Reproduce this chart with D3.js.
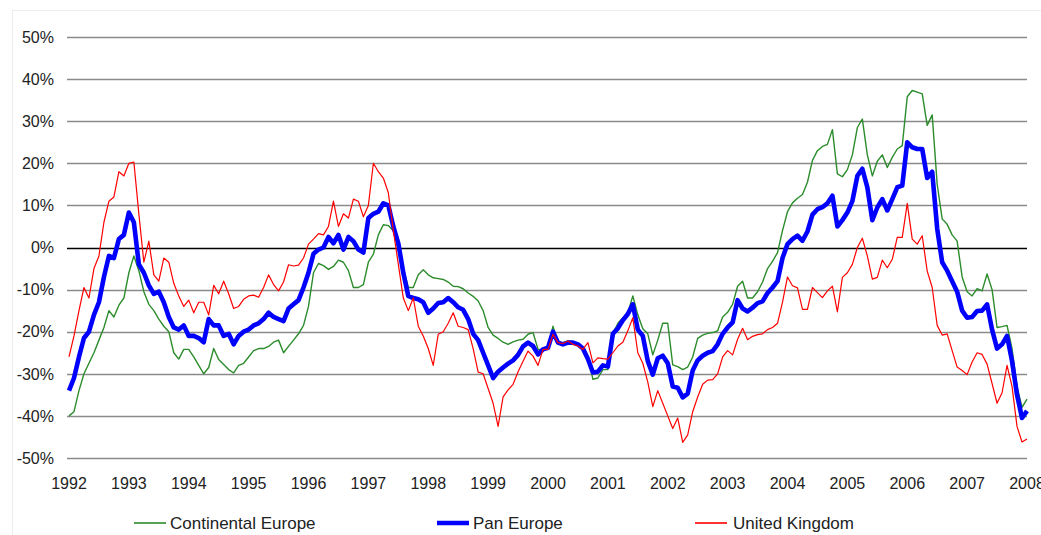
<!DOCTYPE html>
<html>
<head>
<meta charset="utf-8">
<script src="https://cdn.jsdelivr.net/npm/d3@7"></script>
<style>
    body { margin: 0; background: #fff; }
    text { font-family: "Liberation Sans", Arial, sans-serif; fill: #222; }
</style>
</head>
<body>
<div id="chart"></div>
<script>
// monthly values, Jan 1992 .. Jan 2008
const startYear = 1992;
const yearTicks = [1992, 1993, 1994, 1995, 1996, 1997, 1998, 1999, 2000, 2001, 2002, 2003, 2004, 2005, 2006, 2007, 2008];
const pctTicks = [50, 40, 30, 20, 10, 0, -10, -20, -30, -40, -50];

const continental = [
    -40, -39, -34, -30, -27.5, -25, -22, -19, -15, -16.5, -13.7, -12, -6, -2, -5.5, -10.5, -13.5, -15, -17, -18.7, -20, -25, -26.5, -24.2, -24.2, -26, -28, -30, -28.5, -24, -26.6, -27.8, -29, -29.8,
    -28, -27.5, -26, -24.5, -24, -24, -23.5, -22.5, -22, -25, -23.5, -22, -20.5, -18.5, -14, -6, -3.8, -4.3, -5.2, -4.5, -3, -3.5, -5.5, -9.5, -9.5, -8.8, -3.5, -1.6, 3, 5.4, 5.2, 4, -0.5, -5, -9.5,
    -9.5, -6.5, -5.3, -6.5, -7.2, -7.4, -7.6, -8.2, -9.2, -9.3, -9.8, -10.8, -11.6, -12.7, -15, -19, -20.8, -21.6, -22.5, -23, -22.4, -22, -21.8, -20.6, -20.2, -24.2, -24.2, -23.8, -18.7, -22.6, -22.6, -22.2, -22.4, -23, -23.8, -25.8, -31.3, -31,
    -29, -29, -20.5, -18, -16.7, -15.5, -11.5, -16, -19.3, -20.5, -25.5, -22, -18, -18, -27.9, -28.3, -29, -28.4, -26, -21.6, -20.8, -20.4, -20.2, -19.8, -16.5, -15.4, -13.5, -9.2, -8, -12, -12, -10.5, -8.2, -5, -3.3, -1.2,
    4, 8.5, 10.6, 11.7, 12.6, 15.5, 20.7, 23, 24, 24.5, 28, 17.5, 16.8, 18.5, 22, 28.5, 30.5, 22, 17, 20.5, 22, 19, 21.4, 23.4, 24.2, 35.8, 37.3, 36.9, 36.5, 29,
    31.5, 15, 6.8, 5.5, 3, 1.5, -7, -10.5, -11.5, -9.8, -10.3, -6.3, -10, -19, -18.8, -18.5, -24, -33, -38, -36
];

const panEurope = [
    -34, -31, -26, -21.5, -20, -16, -13, -7, -2, -2.5, 2, 3, 8.3, 6, -4, -6, -9, -11, -10.5, -13, -16.5, -19, -19.5, -18.5, -21, -21, -21.5, -22.5, -17, -18.5, -18.5, -21, -20.5, -23,
    -21, -20, -19.5, -18.5, -18, -17, -15.5, -16.5, -17, -17.5, -14.5, -13.5, -12.5, -9.5, -6, -1.5, -0.5, 0, 2.5, 1, 3, -0.5, 2.5, 1.5, -0.5, -1.2, 7, 8, 8.5, 10.5, 10, 5, 1, -6, -11.5,
    -12, -12.3, -13, -15.5, -14.5, -13.2, -13, -12, -13, -14.2, -14.8, -17, -20.5, -22, -25, -28, -31, -29.5, -28.5, -27.6, -26.8, -25.5, -23.5, -22.6, -23.4, -25.4, -24.2, -23.8, -20, -22.6, -23, -22.6, -22.6, -23, -24, -26.5, -29.7, -29.5,
    -28, -28.3, -20.5, -19.2, -17.3, -15.8, -13.5, -19.5, -21, -27, -30.2, -26.3, -25.7, -27.5, -33, -33.3, -35.6, -34.7, -29.2, -26.8, -25.7, -25, -24.6, -23, -20.5, -19, -17.8, -12.5, -14.5, -15.2, -14.3, -13.2, -12.8, -10.8, -9.5, -8,
    -2.5, 0.8, 2, 2.8, 1.6, 3.8, 7.8, 9.1, 9.6, 10.5, 12.3, 5, 6.5, 8.3, 11, 17, 18.7, 14.3, 6.5, 9.5, 11.5, 8.8, 11.5, 14.3, 14.7, 25, 23.8, 23.4, 23.4, 16.5,
    18, 4.5, -3.5, -5.5, -8, -10.5, -15, -16.7, -16.5, -15.1, -15, -13.5, -19.5, -24, -23, -21, -27, -35, -40.5, -38.8
];

const unitedKingdom = [
    -26, -21, -15, -9.5, -12, -5, -2, 6, 11, 12, 18, 17, 20, 20.3, 8, -3.5, 1.5, -6.5, -8, -2.5, -3.5, -8.5, -11.5, -14, -12.5, -15.5, -13, -13, -16, -9, -11, -8, -11, -14.5,
    -14, -12.3, -11.5, -11.3, -11.8, -9.5, -6.5, -8.8, -10.3, -8.2, -4.1, -4.4, -4.2, -2.5, 0.8, 2, 3.3, 3, 5, 11, 5, 8, 7, 11.5, 11, 7.3, 10, 20, 18, 16.5, 13, 4, -4, -12, -15,
    -12, -18.7, -21, -24, -28, -20.6, -20, -18, -15.5, -18.7, -19, -19.5, -24, -29.6, -30, -33.5, -37, -42.5, -35.5, -33.8, -32.5, -29.5, -27, -24.6, -25.8, -28, -24.2, -24.2, -20.6, -22.6, -22.8, -22.2, -23, -23.4, -24.2, -22.6, -27.4, -26.2,
    -26.4, -26.5, -25, -23.4, -22.5, -19.8, -16.7, -25, -27.5, -32, -37.8, -34, -37, -40, -43, -40.5, -46.3, -44.5, -39, -35.5, -32.5, -31.5, -31.4, -30, -26, -24.5, -25.5, -21.8, -19.2, -21.9, -21.1, -20.7, -20.5, -19.5, -19, -18,
    -13, -7, -9.1, -9.6, -14.7, -14.7, -9.5, -10.7, -11.9, -10.3, -9.2, -15.3, -7.1, -6, -4, 0, 2.2, -2, -7.5, -7.1, -3, -4.8, -2.8, 2.4, 2.4, 10.5, 2, 0.8, 2.8, -5.6,
    -9.5, -18.5, -20.8, -20.5, -24.5, -28.4, -29.2, -30.2, -27.2, -25, -25.4, -27.7, -32.3, -37, -34.5, -28, -33, -42.5, -46.2, -45.5
];

const seriesNames = ["Continental Europe", "Pan Europe", "United Kingdom"];
const seriesColors = ["#2c8c2c", "#0000ff", "#ff0000"];
const seriesWidths = [1.4, 4.6, 1.2];

const width = 1041, height = 535;
const x = d3.scaleLinear().domain([1992, 2008]).range([69, 1027]);
const y = d3.scaleLinear().domain([-50, 50]).range([458, 37]);

const svg = d3.select("#chart")
    .append("svg")
    .attr("width", width)
    .attr("height", height);

// faint outer frame
svg.append("rect")
    .attr("x", 12.5)
    .attr("y", 10.5)
    .attr("width", width + 10)
    .attr("height", height + 10)
    .style("fill", "none")
    .style("stroke", "#ececec");

// horizontal gridlines
svg.selectAll(".grid")
    .data(pctTicks)
    .join("line")
    .classed("grid", true)
    .attr("x1", 67)
    .attr("x2", x(2008))
    .attr("y1", d => Math.round(y(d)) + 0.5)
    .attr("y2", d => Math.round(y(d)) + 0.5)
    .style("stroke", d => d === 0 ? "#000" : "#8a8a8a")
    .style("stroke-width", d => d === 0 ? 1.5 : 1.3);

// y labels
svg.selectAll(".yLabel")
    .data(pctTicks)
    .join("text")
    .classed("yLabel", true)
    .attr("x", 54)
    .attr("y", d => y(d))
    .attr("dy", "0.36em")
    .attr("text-anchor", "end")
    .attr("font-size", "16px")
    .text(d => d + "%");

// x labels
svg.selectAll(".xLabel")
    .data(yearTicks)
    .join("text")
    .classed("xLabel", true)
    .attr("x", d => x(d))
    .attr("y", 489)
    .attr("text-anchor", "middle")
    .attr("font-size", "16px")
    .text(d => d);

const series = [continental, panEurope, unitedKingdom];
const line = d3.line()
    .x((d, i) => x(startYear + i / 12))
    .y(d => y(d));

svg.selectAll(".series")
    .data(series)
    .join("path")
    .classed("series", true)
    .attr("d", d => line(d))
    .style("fill", "none")
    .style("stroke", (d, i) => seriesColors[i])
    .style("stroke-width", (d, i) => seriesWidths[i])
    .style("stroke-linejoin", "round");

// legend
const legendX = [134, 437, 695];
const legend = svg.selectAll(".legend")
    .data(seriesNames)
    .join("g")
    .classed("legend", true)
    .attr("transform", (d, i) => `translate(${legendX[i]}, 523)`);

legend.append("line")
    .attr("x1", 0)
    .attr("x2", 32)
    .attr("y1", 0)
    .attr("y2", 0)
    .style("stroke", (d, i) => seriesColors[i])
    .style("stroke-width", (d, i) => i === 1 ? 4.5 : 1.6);

legend.append("text")
    .attr("x", (d, i) => i === 2 ? 38 : 36)
    .attr("y", 0)
    .attr("dy", "0.36em")
    .attr("font-size", "17px")
    .text(d => d);
</script>
</body>
</html>
